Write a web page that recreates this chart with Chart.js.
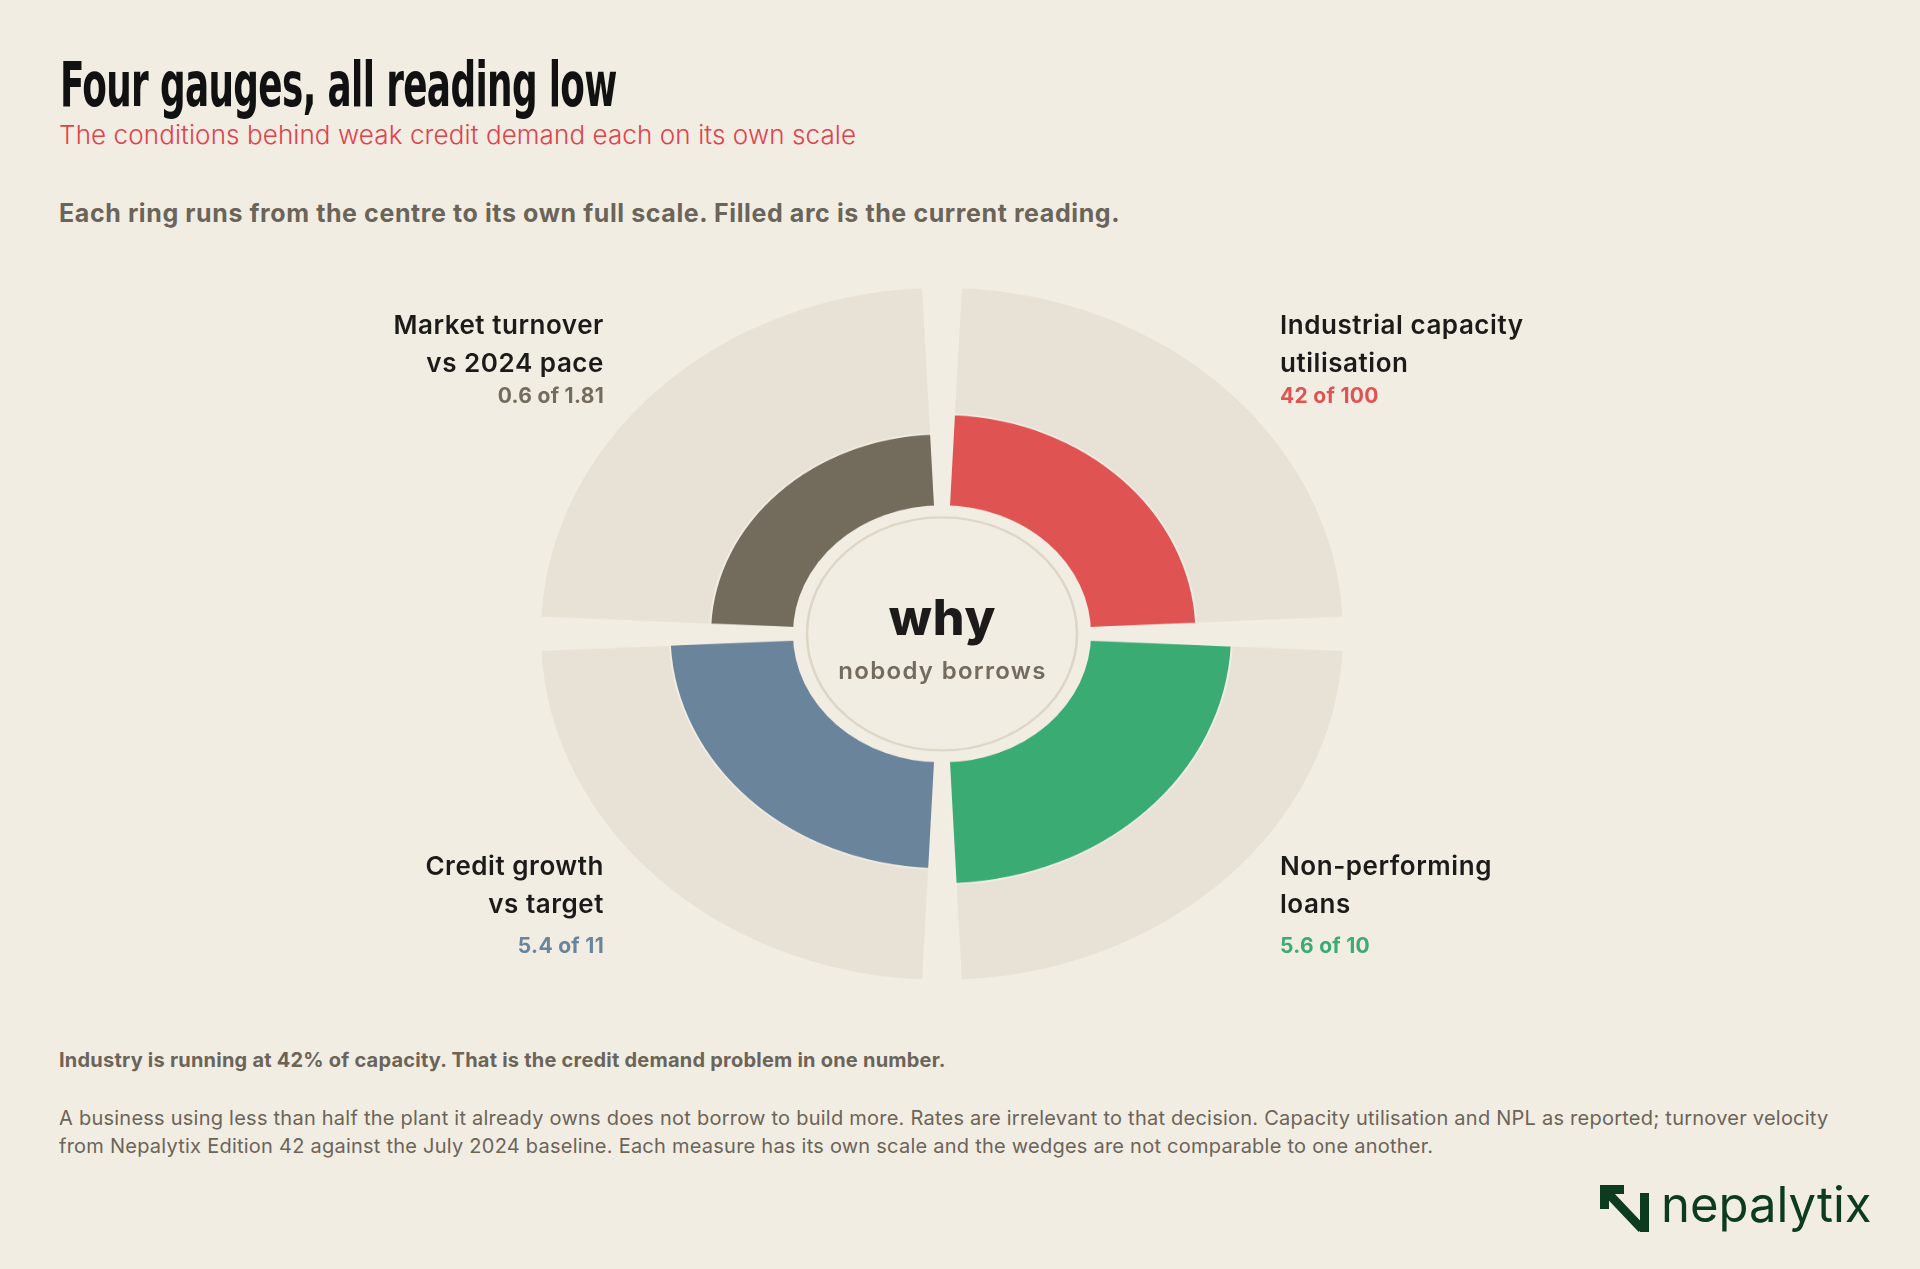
<!DOCTYPE html>
<html>
<head>
<meta charset="utf-8">
<script src="https://cdn.jsdelivr.net/npm/chart.js@4.4.1/dist/chart.umd.min.js"></script>
<style>
  html, body { margin: 0; padding: 0; background: #f2ede3; }
  body { width: 1920px; height: 1269px; position: relative; overflow: hidden; font-family: Inter, "Noto Sans", sans-serif; }
  .t { position: absolute; white-space: nowrap; line-height: 1; }
  #title { left: 60px; top: 54px; font-family: "Liberation Sans Narrow", "DejaVu Sans Condensed", sans-serif; font-weight: 700; font-size: 62px; color: #111; transform-origin: 0 0; letter-spacing: -1px; }
  #subtitle { left: 59px; top: 121.5px; font-size: 26px; font-weight: 300; color: #e0424c; letter-spacing: 0.1px; }
  #lede { left: 59px; top: 201.4px; font-size: 25px; font-weight: 700; color: #6b6459; letter-spacing: 0.6px; }
  .lab { position: absolute; font-size: 26px; font-weight: 600; line-height: 37.2px; color: #1c1b19; white-space: nowrap; letter-spacing: 0.55px; }
  .val { position: absolute; font-size: 21px; font-weight: 700; line-height: 1; white-space: nowrap; letter-spacing: 0.3px; }
  .left { right: 1316px; text-align: right; }
  .right { left: 1280px; text-align: left; }
  #wrap { position: absolute; left: 532.3px; top: 280px; width: 820px; height: 820px; transform: scaleY(0.863); transform-origin: 0 0; }
  #why { left: 742.5px; width: 400px; text-align: center; top: 592px; font-size: 50px; font-weight: 800; color: #1c1b19; letter-spacing: 0.8px; }
  #nobody { left: 742.5px; width: 400px; text-align: center; top: 659px; font-size: 24px; font-weight: 600; color: #736b5e; letter-spacing: 1.3px; }
  #note { left: 59px; top: 1049.7px; font-size: 20px; font-weight: 700; color: #6b6459; letter-spacing: 0.22px; }
  #para { position: absolute; left: 59px; top: 1103.7px; font-size: 20px; line-height: 28px; color: #6b6459; white-space: nowrap; letter-spacing: 0.24px; }
  #logo { position: absolute; left: 1600px; top: 1185px; }
  #brand { left: 1661px; top: 1179.7px; font-size: 49px; font-weight: 400; color: #0c3b1f; }
</style>
</head>
<body>
<div class="t" id="title">Four gauges, all reading low</div>
<div class="t" id="subtitle">The conditions behind weak credit demand each on its own scale</div>
<div class="t" id="lede">Each ring runs from the centre to its own full scale. Filled arc is the current reading.</div>

<div id="wrap"><canvas id="gauges" width="820" height="820"></canvas></div>

<div class="t" id="why">why</div>
<div class="t" id="nobody">nobody borrows</div>

<div class="lab left" style="top:306.4px">Market turnover<br>vs 2024 pace</div>
<div class="val left" id="v3" style="top:385.2px"></div>
<div class="lab right" style="top:306.4px">Industrial capacity<br>utilisation</div>
<div class="val right" id="v0" style="top:385.2px"></div>
<div class="lab left" style="top:847.4px">Credit growth<br>vs target</div>
<div class="val left" id="v2" style="top:934.9px"></div>
<div class="lab right" style="top:847.4px">Non-performing<br>loans</div>
<div class="val right" id="v1" style="top:934.9px"></div>

<div class="t" id="note">Industry is running at 42% of capacity. That is the credit demand problem in one number.</div>
<div id="para">A business using less than half the plant it already owns does not borrow to build more. Rates are irrelevant to that decision. Capacity utilisation and NPL as reported; turnover velocity<br>from Nepalytix Edition 42 against the July 2024 baseline. Each measure has its own scale and the wedges are not comparable to one another.</div>

<svg id="logo" width="50" height="48" viewBox="0 0 50 48">
  <path d="M0 0 H24 V9 H9 V24 H0 Z" fill="#0c3b1f"/>
  <line x1="5" y1="5" x2="42" y2="44" stroke="#0c3b1f" stroke-width="9"/>
  <rect x="40" y="8" width="9" height="39" fill="#0c3b1f"/>
</svg>
<div class="t" id="brand">nepalytix</div>

<script>
// clockwise from the top
const categories = ["Industrial capacity utilisation", "Non-performing loans", "Credit growth vs target", "Market turnover vs 2024 pace"];
const readings = [42, 5.6, 5.4, 0.6];
const fullScale = [100, 10, 11, 1.81];
const readingColors = ["#e05353", "#3bab74", "#6a849c", "#736b5c"];

const BG = "#f2ede3";
const TRACK = "#e8e1d5";
const WEDGE_ANGLE = 84.6;
const GAP_ANGLE = 5.4;
const RING_FLOOR = -0.58; // zero sits on the edge of the centre hole

// fit the condensed title to its width
const title = document.getElementById("title");
title.style.transform = "scaleX(" + (557 / title.offsetWidth) + ")";

// value captions
readings.forEach(function (v, i) {
  const el = document.getElementById("v" + i);
  el.textContent = v + " of " + fullScale[i];
  el.style.color = readingColors[i];
});

// each wedge followed by an empty gap slice
const labels = [];
const filled = [];
const track = [];
categories.forEach(function (c, i) {
  labels.push(c);
  filled.push(readings[i] / fullScale[i]);
  track.push(1);
  labels.push("");
  filled.push(0);
  track.push(0);
});

const isGap = (ctx) => ctx.dataIndex % 2 === 1;

const hole = {
  id: "hole",
  afterDatasetsDraw(chart) {
    const s = chart.scales.r;
    const ctx = chart.ctx;
    const r0 = s.getDistanceFromCenterForValue(0);
    ctx.save();
    ctx.fillStyle = BG;
    ctx.beginPath();
    ctx.arc(s.xCenter, s.yCenter, r0 + 1.5, 0, Math.PI * 2);
    ctx.fill();
    ctx.strokeStyle = "#ddd5c6";
    ctx.lineWidth = 2.5;
    ctx.beginPath();
    ctx.arc(s.xCenter, s.yCenter, r0 * 0.915, 0, Math.PI * 2);
    ctx.stroke();
    ctx.restore();
  }
};

new Chart(document.getElementById("gauges"), {
  type: "polarArea",
  data: {
    labels: labels,
    datasets: [
      {
        data: filled,
        backgroundColor: (ctx) => isGap(ctx) ? "rgba(0,0,0,0)" : readingColors[ctx.dataIndex / 2],
        borderColor: (ctx) => isGap(ctx) ? "rgba(0,0,0,0)" : BG,
        borderWidth: 2,
        angle: (ctx) => isGap(ctx) ? GAP_ANGLE : WEDGE_ANGLE
      },
      {
        data: track,
        backgroundColor: (ctx) => isGap(ctx) ? "rgba(0,0,0,0)" : TRACK,
        borderColor: (ctx) => isGap(ctx) ? "rgba(0,0,0,0)" : BG,
        borderWidth: 2,
        angle: (ctx) => isGap(ctx) ? GAP_ANGLE : WEDGE_ANGLE
      }
    ]
  },
  options: {
    responsive: false,
    animation: false,
    layout: { padding: 8 },
    plugins: {
      legend: { display: false },
      tooltip: { enabled: false }
    },
    scales: {
      r: {
        display: false,
        min: RING_FLOOR,
        max: 1,
        startAngle: GAP_ANGLE / 2
      }
    }
  },
  plugins: [hole]
});
</script>
</body>
</html>
